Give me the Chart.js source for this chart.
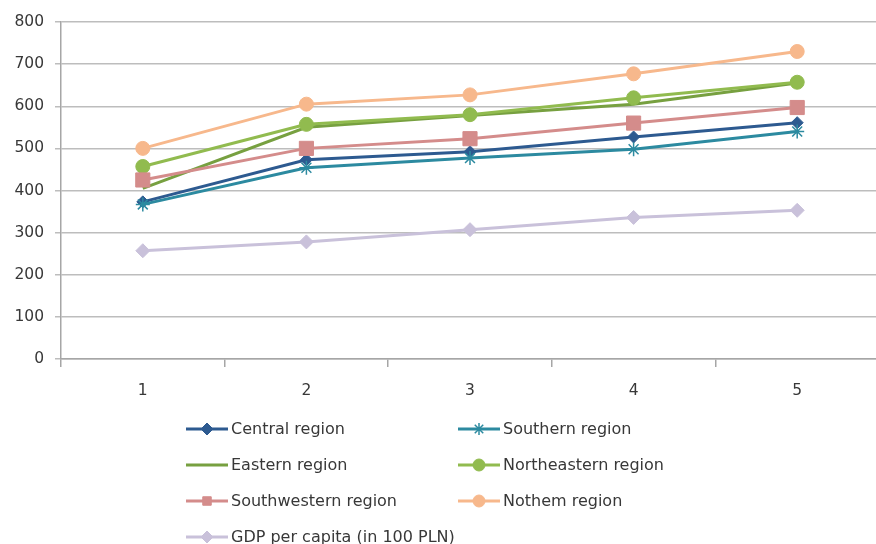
<!DOCTYPE html>
<html>
<head>
<meta charset="utf-8">
<script src="https://cdn.jsdelivr.net/npm/chart.js@4/dist/chart.umd.min.js"></script>
<style>
  html, body { margin: 0; padding: 0; background: #fff; overflow: hidden; }
  #wrap { width: 890px; height: 544px; }
</style>
</head>
<body>
<div id="wrap"><canvas id="c" width="890" height="544"></canvas></div>
<script>
  const categories = ["1", "2", "3", "4", "5"];
  const seriesNames = [
    "Central region", "Southern region", "Eastern region", "Northeastern region",
    "Southwestern region", "Nothem region", "GDP per capita (in 100 PLN)"
  ];
  const central = [373, 473, 492, 527, 561];
  const southern = [367, 454, 477, 498, 540];
  const eastern = [405, 550, 578, 605, 655];
  const northeastern = [457, 557, 580, 620, 657];
  const southwestern = [425, 500, 523, 560, 597];
  const northern = [500, 605, 627, 677, 730];
  const gdp = [257, 278, 307, 336, 353];
  const yTicks = [0, 100, 200, 300, 400, 500, 600, 700, 800];

  const FONT = "DejaVu Sans";
  const TEXT = "#383838";

  function ds(i, data, color, style, radius) {
    return {
      label: seriesNames[i],
      data: data,
      borderColor: color,
      backgroundColor: color,
      pointBackgroundColor: color,
      pointBorderColor: color,
      borderWidth: 3,
      pointStyle: style,
      pointRadius: radius,
      pointBorderWidth: style === "star" ? 1.5 : 1,
      tension: 0,
      order: 10 - i,
    };
  }

  const datasets = [
    ds(0, central, "#2d5a90", "rectRot", 6),
    ds(1, southern, "#2c8aa0", "star", 7),
    ds(2, eastern, "#77a040", false, 0),
    ds(3, northeastern, "#91bb4f", "circle", 7),
    ds(4, southwestern, "#d48c8b", "rect", 10),
    ds(5, northern, "#f7b88c", "circle", 7),
    ds(6, gdp, "#c9c1da", "rectRot", 7),
  ];

  // two-column legend drawn under the axis
  const legendPos = [
    [186, 429], [458, 429],
    [186, 465], [458, 465],
    [186, 501], [458, 501],
    [186, 537],
  ];
  const bottomLegend = {
    id: "bottomLegend",
    afterDraw(chart) {
      const ctx = chart.ctx;
      ctx.save();
      chart.data.datasets.forEach((d, i) => {
        const [x, y] = legendPos[i];
        ctx.strokeStyle = d.borderColor;
        ctx.lineWidth = 3;
        ctx.beginPath();
        ctx.moveTo(x, y);
        ctx.lineTo(x + 42, y);
        ctx.stroke();
        if (d.pointStyle && d.pointRadius > 0) {
          ctx.fillStyle = d.pointBackgroundColor;
          ctx.strokeStyle = d.pointBorderColor;
          ctx.lineWidth = d.pointBorderWidth;
          Chart.helpers.drawPoint(ctx, {
            pointStyle: d.pointStyle,
            radius: Math.min(d.pointRadius, 6),
            rotation: 0,
            borderWidth: d.pointBorderWidth,
          }, x + 21, y);
        }
        ctx.fillStyle = TEXT;
        ctx.font = "16px '" + FONT + "'";
        ctx.textBaseline = "middle";
        ctx.textAlign = "left";
        ctx.fillText(d.label, x + 45, y + 1);
      });
      ctx.restore();
    },
  };

  new Chart(document.getElementById("c"), {
    type: "line",
    data: { labels: categories, datasets: datasets },
    options: {
      responsive: false,
      animation: false,
      layout: { padding: { top: 22, right: 4, bottom: 145, left: 0 } },
      plugins: { legend: { display: false }, tooltip: { enabled: false } },
      scales: {
        x: {
          offset: true,
          grid: { offset: true, drawOnChartArea: false, color: "#a6a6a6", lineWidth: 1.5, tickLength: 8 },
          border: { color: "#a6a6a6", width: 1.5 },
          ticks: { color: TEXT, font: { family: FONT, size: 15.5 }, padding: 15 },
          afterFit(scale) { scale.height = 40; },
        },
        y: {
          min: 0,
          max: 800,
          afterBuildTicks(scale) { scale.ticks = yTicks.map((v) => ({ value: v })); },
          grid: { color: "#bdbdbd", lineWidth: 1.5, tickLength: 6 },
          border: { color: "#a6a6a6", width: 1.5 },
          ticks: { color: TEXT, font: { family: FONT, size: 15.5 }, padding: 11 },
          afterFit(scale) { scale.width = 61; },
        },
      },
    },
    plugins: [bottomLegend],
  });
</script>
</body>
</html>
